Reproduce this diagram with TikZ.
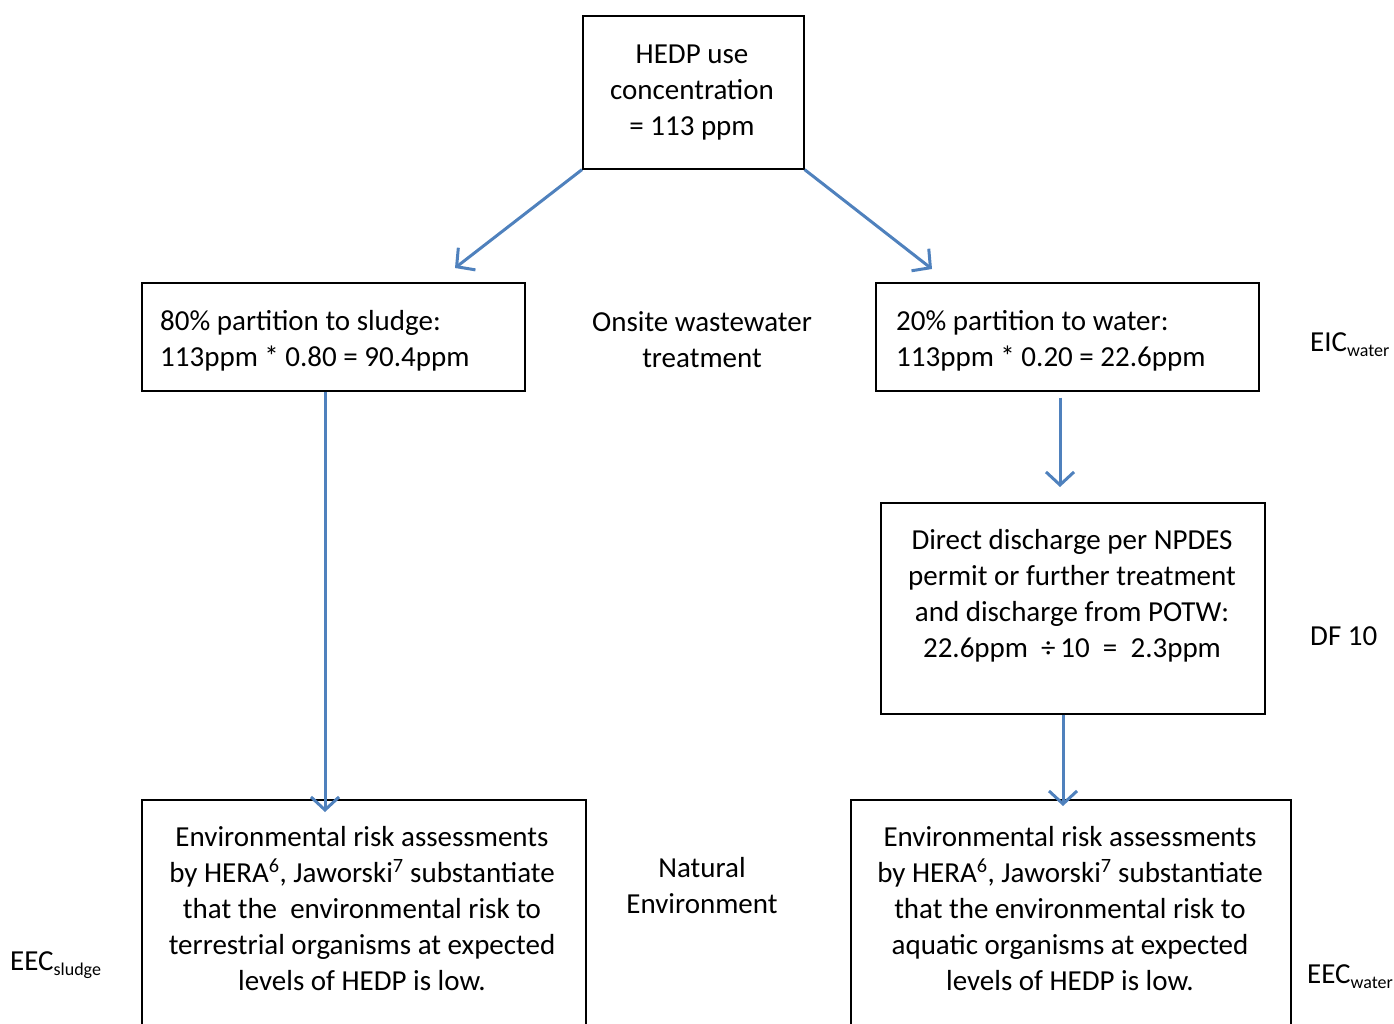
\documentclass[tikz,border=0pt]{standalone}
\usepackage{fontspec}
\setmainfont{Carlito}
\usetikzlibrary{arrows.meta,calc}
\definecolor{arrowblue}{HTML}{4F81BD}
\newcommand{\mysub}[1]{\raisebox{-5pt}{\fontsize{18}{18}\selectfont #1}}
\begin{document}
\begin{tikzpicture}[x=1pt,y=-1pt,
  box/.style={draw=black, line width=1.6pt, rectangle, inner sep=0pt},
  txt/.style={inner sep=0pt, font=\fontsize{29}{36}\selectfont},
  flow/.style={draw=arrowblue, line width=3pt, -{Straight Barb[length=13pt,width=28pt]}}]
\useasboundingbox (0,0) rectangle (1394,1023);
\clip (0,0) rectangle (1394,1023);
% boxes
\node[box, minimum width=221pt, minimum height=153pt, anchor=north west] (top) at (582,15) {};
\node[box, minimum width=383pt, minimum height=108pt, anchor=north west] (lb) at (141,282) {};
\node[box, minimum width=383pt, minimum height=108pt, anchor=north west] (rb) at (875,282) {};
\node[box, minimum width=384pt, minimum height=211pt, anchor=north west] (mb) at (880,502) {};
\node[box, minimum width=444pt, minimum height=300pt, anchor=north west] (bl) at (141,799) {};
\node[box, minimum width=440pt, minimum height=300pt, anchor=north west] (br) at (850,799) {};
% box texts
\node[txt, align=center, anchor=base] (toptext) at (692,135) {HEDP use\\concentration\\= 113 ppm};
\node[txt, align=left, anchor=base west] (lbtext) at (160,366) {80\% partition to sludge:\\113ppm * 0.80 = 90.4ppm};
\node[txt, align=left, anchor=base west] (rbtext) at (896,366) {20\% partition to water:\\113ppm * 0.20 = 22.6ppm};
\node[txt, align=center, anchor=base] (mbtext) at (1072,657) {Direct discharge per NPDES\\permit or further treatment\\and discharge from POTW:\\22.6ppm\ \ ÷\,10\ \ =\ \ 2.3ppm};
\node[txt, align=center, anchor=base] (bltext) at (362,990) {Environmental risk assessments\\by HERA\textsuperscript{6}, Jaworski\textsuperscript{7} substantiate\\that the\ \ environmental risk to\\terrestrial organisms at expected\\levels of HEDP is low.};
\node[txt, align=center, anchor=base] (brtext) at (1070,990) {Environmental risk assessments\\by HERA\textsuperscript{6}, Jaworski\textsuperscript{7} substantiate\\that the environmental risk to\\aquatic organisms at expected\\levels of HEDP is low.};
% side labels
\node[txt, align=center, anchor=base] (onsite) at (702,367) {Onsite wastewater\\treatment};
\node[txt, align=center, anchor=base] (natural) at (702,913) {Natural\\Environment};
\node[txt, anchor=base west] (eic) at (1310,351) {EIC\mysub{water}};
\node[txt, anchor=base west] (df) at (1310,645) {DF 10};
\node[txt, anchor=base west] (eecs) at (10,970) {EEC\mysub{sludge}};
\node[txt, anchor=base west] (eecw) at (1307,983) {EEC\mysub{water}};
% connectors
\coordinate (e1) at (455,268);
\coordinate (e2) at (932,269);
\coordinate (x1) at (325,0);
\coordinate (x2) at (1060,0);
\coordinate (x3) at (1063,0);
\draw[flow] (top.south west) -- (e1);
\draw[flow] (top.south east) -- (e2);
\draw[flow] (lb.south -| x1) -- ($(bl.north -| x1)+(0,13)$);
\draw[flow] ($(rb.south -| x2)+(0,6)$) -- ($(mb.north -| x2)+(0,-15)$);
\draw[flow] (mb.south -| x3) -- ($(br.north -| x3)+(0,7)$);
\end{tikzpicture}
\end{document}
